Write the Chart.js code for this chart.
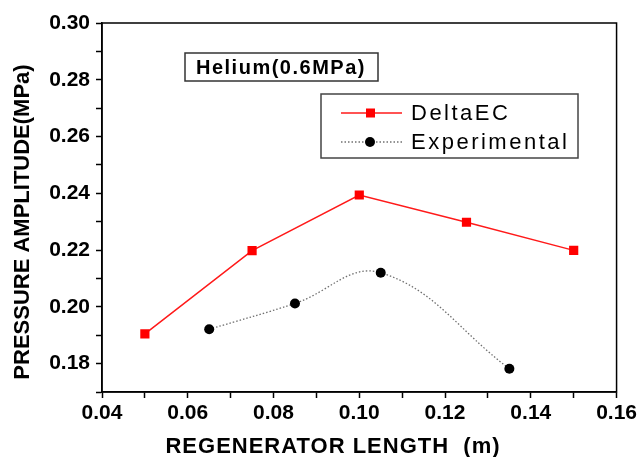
<!DOCTYPE html>
<html>
<head>
<meta charset="utf-8">
<script src="https://cdn.jsdelivr.net/npm/chart.js@4.4.1/dist/chart.umd.min.js"></script>
<style>
html, body { margin: 0; padding: 0; background: #fff; }
</style>
</head>
<body>
<canvas id="chart" width="640" height="457"></canvas>
<script>
// values
var deltaLength = [0.05, 0.075, 0.10, 0.125, 0.15];
var deltaPressure = [0.1905, 0.2198, 0.2394, 0.2298, 0.2199];
var expLength = [0.065, 0.085, 0.105, 0.135];
var expPressure = [0.1921, 0.2012, 0.2120, 0.1782];

var xTickValues = [0.04, 0.05, 0.06, 0.07, 0.08, 0.09, 0.10, 0.11, 0.12, 0.13, 0.14, 0.15, 0.16];
var xTickLabels = ['0.04', '', '0.06', '', '0.08', '', '0.10', '', '0.12', '', '0.14', '', '0.16'];
var yTickValues = [0.17, 0.18, 0.19, 0.20, 0.21, 0.22, 0.23, 0.24, 0.25, 0.26, 0.27, 0.28, 0.29, 0.30];
var yTickLabels = ['', '0.18', '', '0.20', '', '0.22', '', '0.24', '', '0.26', '', '0.28', '', '0.30'];

var seriesNames = ['DeltaEC', 'Experimental'];
var boxTitle = 'Helium(0.6MPa)';
var xTitle = 'REGENERATOR LENGTH  (m)';
var yTitle = 'PRESSURE AMPLITUDE(MPa)';

function pairUp(xs, ys) {
    return xs.map(function (x, i) { return {x: x, y: ys[i]}; });
}

var deltaGraph = {
    label: seriesNames[0],
    data: pairUp(deltaLength, deltaPressure),
    borderColor: '#ff1a1a',
    backgroundColor: '#ff0000',
    borderWidth: 1.5,
    pointStyle: 'rect',
    pointRadius: 6.5,
    pointBorderWidth: 0,
    tension: 0
};

var expGraph = {
    label: seriesNames[1],
    data: pairUp(expLength, expPressure),
    borderColor: '#707070',
    borderDash: [1.5, 2],
    borderWidth: 1.3,
    backgroundColor: '#000',
    pointBackgroundColor: '#000',
    pointBorderColor: '#000',
    pointRadius: 5,
    pointBorderWidth: 0,
    tension: 0.4
};

var tickFont = {family: 'Liberation Sans, Arial, sans-serif', size: 21, weight: 'bold'};

function axisTicks(values) {
    return function (scale) {
        scale.ticks = values.map(function (v) { return {value: v}; });
    };
}

// frame, titles, annotation box and legend drawn on top
var decorations = {
    id: 'decorations',
    afterDraw: function (chart) {
        var ctx = chart.ctx;
        var a = chart.chartArea;
        ctx.save();
        ctx.strokeStyle = '#000';
        ctx.lineWidth = 1.5;
        ctx.strokeRect(a.left, a.top, a.right - a.left, a.bottom - a.top);

        // axis titles
        ctx.fillStyle = '#000';
        ctx.font = 'bold 22px Liberation Sans, Arial, sans-serif';
        ctx.textAlign = 'center';
        ctx.textBaseline = 'middle';
        ctx.letterSpacing = '1px';
        ctx.fillText(xTitle, 333, 447);
        ctx.letterSpacing = '0px';
        ctx.save();
        ctx.translate(23, 222);
        ctx.rotate(-Math.PI / 2);
        ctx.fillText(yTitle, 0, 0);
        ctx.restore();

        // annotation box
        ctx.strokeStyle = '#333';
        ctx.lineWidth = 1.5;
        ctx.strokeRect(185, 53, 193, 28);
        ctx.font = 'bold 20px Liberation Sans, Arial, sans-serif';
        ctx.letterSpacing = '1.5px';
        ctx.textAlign = 'left';
        ctx.fillText(boxTitle, 196, 68);

        // legend box
        ctx.letterSpacing = '0px';
        ctx.strokeStyle = '#444';
        ctx.lineWidth = 1.5;
        ctx.strokeRect(321, 94, 257, 64);
        var rows = [113, 142];
        var sets = [deltaGraph, expGraph];
        ctx.font = '22px Liberation Sans, Arial, sans-serif';
        ctx.letterSpacing = '2.5px';
        sets.forEach(function (ds, i) {
            var y = rows[i];
            ctx.save();
            ctx.strokeStyle = ds.borderColor;
            ctx.lineWidth = ds.borderWidth;
            ctx.setLineDash(ds.borderDash || []);
            ctx.beginPath();
            ctx.moveTo(341, y);
            ctx.lineTo(402, y);
            ctx.stroke();
            ctx.restore();
            ctx.fillStyle = i === 0 ? '#ff0000' : '#000';
            if (i === 0) {
                ctx.fillRect(366, y - 4.5, 9, 9);
            } else {
                ctx.beginPath();
                ctx.arc(370, y, 5, 0, Math.PI * 2);
                ctx.fill();
            }
            ctx.fillStyle = '#000';
            ctx.fillText(ds.label, 411, y + 1);
        });
        ctx.restore();
    }
};

var chartData = {
    type: 'line',
    data: {datasets: [deltaGraph, expGraph]},
    options: {
        responsive: false,
        devicePixelRatio: 1,
        animation: false,
        layout: {padding: {top: 23, right: 21, left: 0, bottom: 0}},
        plugins: {legend: {display: false}, tooltip: {enabled: false}},
        scales: {
            x: {
                type: 'linear',
                min: 0.04,
                max: 0.16,
                afterBuildTicks: axisTicks(xTickValues),
                afterFit: function (scale) { scale.height = 65; },
                grid: {drawOnChartArea: false, drawTicks: true, tickLength: 6, tickWidth: 1.5, tickColor: '#000'},
                border: {display: true, color: '#000', width: 1.5},
                ticks: {
                    autoSkip: false,
                    maxRotation: 0,
                    color: '#000',
                    font: tickFont,
                    padding: 3,
                    callback: function (v, i) { return xTickLabels[i]; }
                }
            },
            y: {
                type: 'linear',
                min: 0.17,
                max: 0.30,
                afterBuildTicks: axisTicks(yTickValues),
                afterFit: function (scale) { scale.width = 102; },
                grid: {drawOnChartArea: false, drawTicks: true, tickLength: 6, tickWidth: 1.5, tickColor: '#000'},
                border: {display: true, color: '#000', width: 1.5},
                ticks: {
                    autoSkip: false,
                    color: '#000',
                    font: tickFont,
                    padding: 6,
                    callback: function (v, i) { return yTickLabels[i]; }
                }
            }
        }
    },
    plugins: [decorations]
};

var ctx = document.getElementById('chart').getContext('2d');
var myChart = new Chart(ctx, chartData);
</script>
</body>
</html>
